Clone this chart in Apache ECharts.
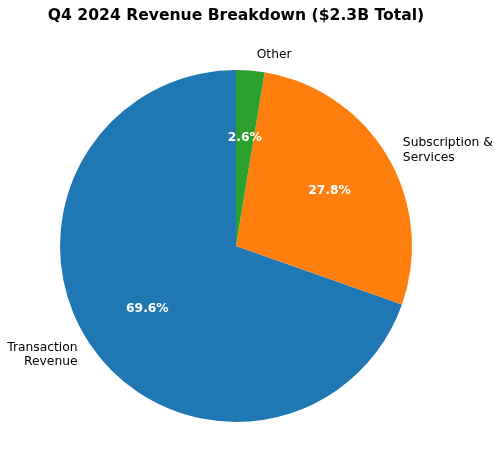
<!DOCTYPE html>
<html>
<head>
<meta charset="utf-8">
<script src="https://cdn.jsdelivr.net/npm/echarts@6/dist/echarts.min.js"></script>
<style>
  html, body { margin: 0; padding: 0; background: #fff; }
  #chart { width: 500px; height: 474px; }
</style>
</head>
<body>
<div id="chart"></div>
<script>
const categories = ['Transaction\nRevenue', 'Subscription &\nServices', 'Other']
const shares = [69.6, 27.8, 2.6]
const colors = ['#1f77b4', '#ff7f0e', '#2ca02c']

function pieData() {
  return categories.map((name, i) => ({
    name: name,
    value: shares[i],
    itemStyle: { color: colors[i] },
  }))
}

const font = 'DejaVu Sans'
const center = [236, 246]
const R = 176

const outerData = pieData()
outerData[2].labelLine = { show: false, length: 16, length2: 0 }

const option = {
  animation: false,
  title: {
    text: 'Q4 2024 Revenue Breakdown ($2.3B Total)',
    left: 231,
    textAlign: 'center',
    top: 3,
    textStyle: { fontFamily: font, fontWeight: 'bold', fontSize: 15.6, color: '#000' },
  },
  series: [
    {
      // slices + outer labels
      type: 'pie',
      center: center,
      radius: [0, R],
      startAngle: 90,
      clockwise: false,
      avoidLabelOverlap: false,
      silent: true,
      data: outerData,
      label: {
        show: true,
        position: 'outside',
        fontFamily: font,
        fontSize: 12.3,
        color: '#000',
        lineHeight: 14.5,
        formatter: '{b}',
      },
      labelLine: { show: false, length: 12, length2: 0 },
    },
    {
      // transparent copy so the inside labels sit at 0.6 R
      type: 'pie',
      center: center,
      radius: [0, R * 1.2],
      startAngle: 90,
      clockwise: false,
      silent: true,
      data: pieData().map(d => ({ ...d, itemStyle: { color: 'transparent' } })),
      label: {
        show: true,
        position: 'inside',
        fontFamily: font,
        fontWeight: 'bold',
        fontSize: 12.3,
        color: '#fff',
        formatter: p => p.value.toFixed(1) + '%',
      },
      labelLine: { show: false },
    },
  ],
}

var myChart = echarts.init(document.getElementById('chart'))
myChart.setOption(option)
</script>
</body>
</html>
